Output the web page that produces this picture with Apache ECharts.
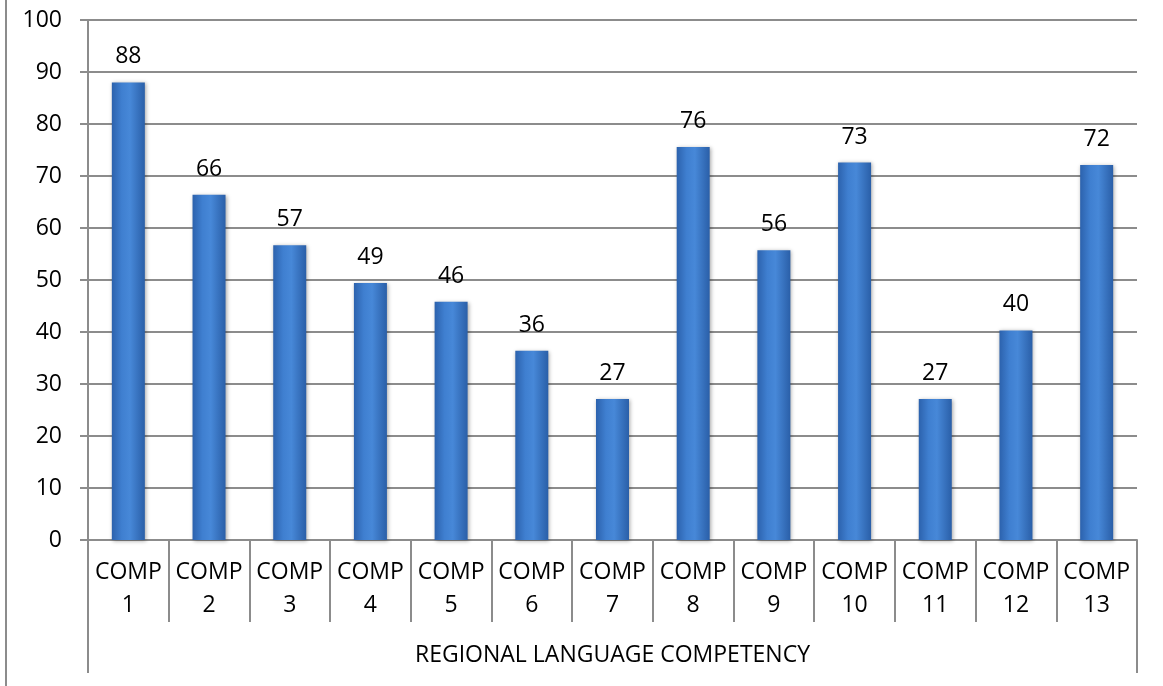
<!DOCTYPE html>
<html>
<head>
<meta charset="utf-8">
<script src="https://cdn.jsdelivr.net/npm/echarts@6/dist/echarts.min.js"></script>
<style>
html,body{margin:0;padding:0;background:#fff;}
#wrap{position:relative;width:1163px;height:686px;}
#border{position:absolute;left:5px;top:0;width:2px;height:686px;background:#8c8c8c;}
#chart{position:absolute;left:0;top:0;width:1163px;height:686px;}
</style>
</head>
<body>
<div id="wrap"><div id="border"></div><div id="chart"></div></div>
<script>
const categories = ['COMP\n1','COMP\n2','COMP\n3','COMP\n4','COMP\n5','COMP\n6','COMP\n7','COMP\n8','COMP\n9','COMP\n10','COMP\n11','COMP\n12','COMP\n13'];
const values = [88, 66.4, 56.7, 49.4, 45.8, 36.4, 27.1, 75.6, 55.7, 72.6, 27.1, 40.3, 72.1];
const groupLabel = ['REGIONAL LANGUAGE COMPETENCY'];
const yTicks = {min: 0, max: 100, interval: 10};

const font = '"Open Sans", "Noto Sans", sans-serif';
const chart = echarts.init(document.getElementById('chart'));
chart.setOption({
  animation: false,
  grid: {left: 88, right: 26, top: 20, bottom: 146, containLabel: false},
  xAxis: [{
    type: 'category',
    data: categories,
    boundaryGap: true,
    axisLine: {show: true, lineStyle: {color: '#8c8c8c', width: 2}},
    axisTick: {show: true, length: 82, lineStyle: {color: '#8c8c8c', width: 2}},
    axisLabel: {color: '#000', fontSize: 23, lineHeight: 33, margin: 16, fontFamily: font, interval: 0}
  }, {
    type: 'category',
    data: groupLabel,
    position: 'bottom',
    offset: 82,
    boundaryGap: true,
    axisLine: {show: false},
    axisTick: {show: true, length: 51, lineStyle: {color: '#8c8c8c', width: 2}},
    axisLabel: {color: '#000', fontSize: 23, margin: 22, fontFamily: font}
  }],
  yAxis: {
    type: 'value',
    min: yTicks.min, max: yTicks.max, interval: yTicks.interval,
    axisLine: {show: true, lineStyle: {color: '#8c8c8c', width: 2}},
    axisTick: {show: true, length: 8, lineStyle: {color: '#8c8c8c', width: 2}},
    splitLine: {show: true, lineStyle: {color: '#8c8c8c', width: 2}},
    axisLabel: {color: '#000', fontSize: 23, margin: 26, fontFamily: font}
  },
  series: [{
    type: 'bar',
    xAxisIndex: 0,
    data: values,
    barWidth: 33,
    itemStyle: {
      color: new echarts.graphic.LinearGradient(0, 0, 1, 0, [
        {offset: 0, color: '#2c62ad'},
        {offset: 0.3, color: '#3f7fd0'},
        {offset: 0.55, color: '#4788d8'},
        {offset: 1, color: '#2a5fa8'}
      ]),
      shadowColor: 'rgba(0,0,0,0.35)', shadowBlur: 4, shadowOffsetX: 1, shadowOffsetY: 1
    },
    label: {
      show: true, position: 'top', distance: 14,
      color: '#000', fontSize: 23, fontFamily: font,
      formatter: p => Math.round(p.value)
    }
  }]
});
</script>
</body>
</html>
